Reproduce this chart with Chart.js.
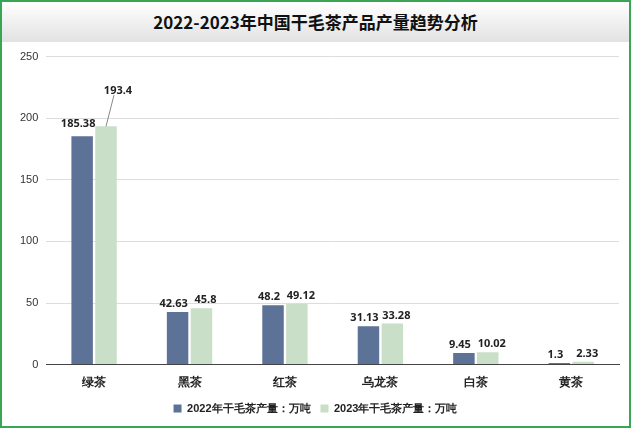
<!DOCTYPE html>
<html><head><meta charset="utf-8">
<script src="https://cdn.jsdelivr.net/npm/chart.js@4"></script>
<style>
body{margin:0;font-family:"Noto Sans CJK SC","Noto Sans",sans-serif;}
#box{position:relative;width:627px;height:424px;border:2px solid #3aa655;background:#fff;}
#title{height:40px;line-height:40px;text-align:center;font-weight:bold;font-size:17px;color:#111;background:linear-gradient(#ffffff,#e2e2e2);}
#wrap{position:absolute;left:0;top:40px;width:627px;height:382px;}
</style></head><body>
<div id="box"><div id="title">2022-2023年中国干毛茶产品产量趋势分析</div>
<div id="wrap"><canvas id="c"></canvas></div></div>
<script>
const categories=["绿茶","黑茶","红茶","乌龙茶","白茶","黄茶"];
const values2022=[185.38,42.63,48.2,31.13,9.45,1.3];
const values2023=[193.4,45.8,49.12,33.28,10.02,2.33];
const labels2022=["185.38","42.63","48.2","31.13","9.45","1.3"];
const labels2023=["193.4","45.8","49.12","33.28","10.02","2.33"];
const seriesNames=["2022年干毛茶产量：万吨","2023年干毛茶产量：万吨"];
const yTicks=[0,50,100,150,200,250];
const labelPlugin={id:"lbl",afterDatasetsDraw(ch){const ctx=ch.ctx;ctx.save();ctx.font="bold 11px 'Noto Sans',sans-serif";ctx.fillStyle="#222";ctx.textAlign="center";
const L=[labels2022,labels2023];
ch.data.datasets.forEach((d,i)=>{ch.getDatasetMeta(i).data.forEach((b,j)=>{let x=b.x+(i===0?-4:4),y=b.y-8;
if(i===0&&j===0){y=b.y-12;}
if(i===1&&j===0){y=ch.scales.y.getPixelForValue(222);x=b.x+12;ctx.strokeStyle="#888";ctx.lineWidth=1;ctx.beginPath();ctx.moveTo(x-4,y+4);ctx.lineTo(b.x,b.y);ctx.stroke();}
ctx.fillText(L[i][j],x,y);});});ctx.restore();}};
new Chart(document.getElementById("c"),{type:"bar",
data:{labels:categories,datasets:[
{label:seriesNames[0],data:values2022,backgroundColor:"#5d7297",barPercentage:0.9,categoryPercentage:0.5},
{label:seriesNames[1],data:values2023,backgroundColor:"#c9dfc8",barPercentage:0.9,categoryPercentage:0.5}]},
options:{responsive:true,maintainAspectRatio:false,animation:false,
layout:{padding:{top:0,right:10,left:10,bottom:0}},
plugins:{legend:{position:"bottom",labels:{boxWidth:8,boxHeight:8,font:{size:11,weight:"bold"},color:"#222"}},tooltip:{enabled:false}},
scales:{y:{min:0,max:250,afterBuildTicks(a){a.ticks=yTicks.map(v=>({value:v}));},ticks:{font:{size:11},color:"#333",padding:8},grid:{color:"#ddd",drawTicks:false},border:{display:false}},
x:{ticks:{font:{size:12,weight:"bold"},color:"#222"},grid:{display:false},border:{color:"#444"}}}}
,plugins:[labelPlugin]});
</script></body></html>
